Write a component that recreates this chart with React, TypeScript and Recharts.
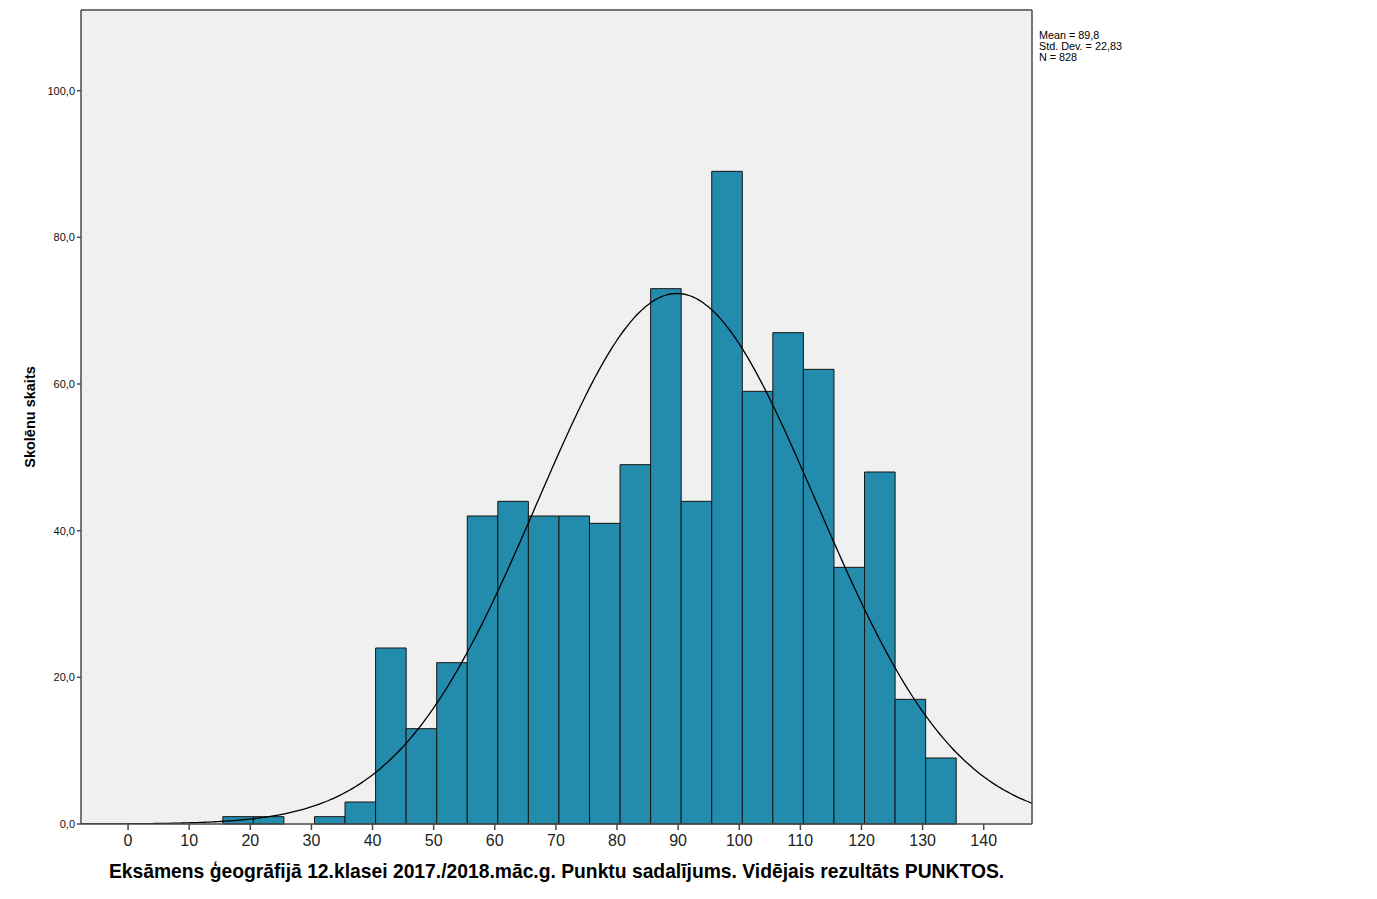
import {
  ComposedChart,
  Line,
  XAxis,
  YAxis,
  CartesianGrid,
  ReferenceArea,
  ReferenceLine,
} from "recharts";

// Histogram bins (lower edge of each 5-point bin) and student counts
const BIN_STARTS = [
  15.5, 20.5, 30.5, 35.5, 40.5, 45.5, 50.5, 55.5, 60.5, 65.5, 70.5, 75.5,
  80.5, 85.5, 90.5, 95.5, 100.5, 105.5, 110.5, 115.5, 120.5, 125.5, 130.5,
];
const COUNTS = [
  1, 1, 1, 3, 24, 13, 22, 42, 44, 42, 42, 41, 49, 73, 44, 89, 59, 67, 62, 35,
  48, 17, 9,
];
const BIN_WIDTH = 5;

const X_TICKS = [0, 10, 20, 30, 40, 50, 60, 70, 80, 90, 100, 110, 120, 130, 140];
const Y_TICKS = [0, 20, 40, 60, 80, 100];

// Stats printed next to the chart; the normal curve is drawn from them
const MEAN = 89.8;
const SD = 22.83;
const N = 828;

const X_MIN = -7.7;
const X_MAX = 147.9;
const Y_MAX = 111;

const curve: { x: number; y: number }[] = [];
for (let x = X_MIN; x <= X_MAX + 0.001; x += 0.5) {
  const z = (x - MEAN) / SD;
  const y = ((N * BIN_WIDTH) / (SD * Math.sqrt(2 * Math.PI))) * Math.exp(-0.5 * z * z);
  curve.push({ x: Math.min(x, X_MAX), y });
}

const FONT = "'Liberation Sans', Arial, sans-serif";
const FRAME = "#4a4a4a";

export default function App() {
  return (
    <div
      style={{
        position: "absolute",
        left: 0,
        top: 0,
        width: 1377,
        height: 899,
        background: "#fff",
        fontFamily: FONT,
      }}
    >
      <ComposedChart
        width={1377}
        height={899}
        data={curve}
        margin={{ top: 10, right: 345, bottom: 0, left: 0 }}
      >
        <CartesianGrid
          horizontal={false}
          vertical={false}
          fill="#f0f0f0"
          fillOpacity={1}
        />
        <XAxis
          type="number"
          dataKey="x"
          domain={[X_MIN, X_MAX]}
          ticks={X_TICKS}
          allowDataOverflow
          height={75}
          tickSize={6}
          tickMargin={5}
          stroke={FRAME}
          strokeWidth={1.5}
          tick={{ fill: "#222", fontSize: 16, fontFamily: FONT }}
          label={{
            value:
              "Eksāmens ģeogrāfijā 12.klasei 2017./2018.māc.g. Punktu sadalījums. Vidējais rezultāts PUNKTOS.",
            position: "insideBottom",
            offset: 21,
            style: { fontWeight: "bold", fontSize: 19.3, fill: "#000", fontFamily: FONT },
          }}
        />
        <YAxis
          type="number"
          domain={[0, Y_MAX]}
          ticks={Y_TICKS}
          allowDataOverflow
          width={81}
          tickSize={4}
          tickMargin={2}
          stroke={FRAME}
          strokeWidth={1.5}
          tickFormatter={(v: number) => v.toFixed(1).replace(".", ",")}
          tick={{ fill: "#111", fontSize: 11, fontFamily: FONT }}
          label={{
            value: "Skolēnu skaits",
            angle: -90,
            position: "insideLeft",
            offset: 30,
            style: {
              fontWeight: "bold",
              fontSize: 14.5,
              fill: "#000",
              fontFamily: FONT,
              textAnchor: "middle",
            },
          }}
        />
        <ReferenceLine y={Y_MAX} stroke={FRAME} strokeWidth={1.5} />
        <ReferenceLine x={X_MAX} stroke={FRAME} strokeWidth={1.5} />
        {BIN_STARTS.map((lo, i) => (
          <ReferenceArea
            key={lo}
            x1={lo}
            x2={lo + BIN_WIDTH}
            y1={0}
            y2={COUNTS[i]}
            fill="#238bac"
            fillOpacity={1}
            stroke="#151515"
            strokeWidth={1}
          />
        ))}
        <Line
          type="monotone"
          dataKey="y"
          stroke="#000"
          strokeWidth={1.3}
          dot={false}
          activeDot={false}
          isAnimationActive={false}
        />
      </ComposedChart>
      <div
        style={{
          position: "absolute",
          left: 1039,
          top: 30,
          fontSize: 10.8,
          lineHeight: "11px",
          color: "#000",
          fontFamily: FONT,
        }}
      >
        <div>Mean = 89,8</div>
        <div>Std. Dev. = 22,83</div>
        <div>N = 828</div>
      </div>
    </div>
  );
}
